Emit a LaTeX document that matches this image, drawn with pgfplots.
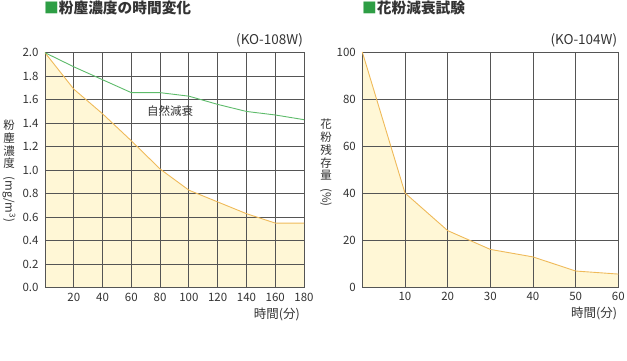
\documentclass[border=0pt]{standalone}
\usepackage{fontspec}
\setmainfont{Noto Sans CJK JP}
\usepackage{pgfplots}
\pgfplotsset{compat=1.18}
\definecolor{gridc}{HTML}{555555}
\definecolor{orangec}{HTML}{EFBA5A}
\definecolor{fillc}{HTML}{FFF7D6}
\definecolor{greenc}{HTML}{5DBB6A}
\definecolor{titleg}{HTML}{2E9E45}
\definecolor{txt}{HTML}{333333}
\pgfplotsset{
 mystyle/.style={
  scale only axis, height=235pt, anchor=south west,
  axis line style={gridc, line width=0.8pt},
  grid=major, major grid style={gridc, line width=0.8pt},
  major tick length=0pt,
  tick label style={font=\fontsize{11.5}{11.5}\selectfont, text=txt},
  xticklabel style={yshift=-2pt},
  yticklabel style={xshift=-3pt},
  /pgf/number format/assume math mode=true,
  set layers,
  clip=false,
 }
}
\newcommand\vlab[2]{\begin{tabular}{@{}c@{}}#1\\[2pt]\rotatebox{-90}{#2}\end{tabular}}
\begin{document}
\begin{tikzpicture}
% titles
\node[anchor=west, inner sep=0, font=\fontsize{14.7}{14.7}\selectfont\bfseries, text=txt] at (44pt,353pt) {\textcolor{titleg}{■}粉塵濃度の時間変化};
\node[anchor=west, inner sep=0, font=\fontsize{14.7}{14.7}\selectfont\bfseries, text=txt] at (362pt,353pt) {\textcolor{titleg}{■}花粉減衰試験};
% vertical labels
\node[inner sep=0, font=\fontsize{11.5}{11.5}\selectfont, text=txt] at (9pt,190pt) {\renewcommand\arraystretch{0.92}\begin{tabular}{@{}c@{}}粉\\塵\\濃\\度\\[-2pt]\rotatebox{-90}{(mg/m\textsuperscript{3})}\end{tabular}};
\node[inner sep=0, font=\fontsize{11.5}{11.5}\selectfont, text=txt] at (326pt,198pt) {\renewcommand\arraystretch{0.92}\begin{tabular}{@{}c@{}}花\\粉\\残\\存\\量\\[-2pt]\rotatebox{-90}{(\%)}\end{tabular}};

\begin{axis}[mystyle, at={(45pt,73.3pt)}, width=259pt,
  xmin=0, xmax=180, ymin=0, ymax=2.0,
  xtick={20,40,...,180}, ytick={0,0.2,...,2.01},
  yticklabel style={/pgf/number format/.cd, fixed, fixed zerofill, precision=1},
  ]
\addplot[on layer=axis background, fill=fillc, draw=none] coordinates {
(0,2.0) (20,1.69) (40,1.48) (60,1.25) (80,1.01) (100,0.83) (120,0.73) (140,0.63) (160,0.55) (180,0.55)} \closedcycle;
\addplot[orangec, line width=0.9pt] coordinates {
(0,2.0) (20,1.69) (40,1.48) (60,1.25) (80,1.01) (100,0.83) (120,0.73) (140,0.63) (160,0.55) (180,0.55)};
\addplot[greenc, line width=0.9pt] coordinates {
(0,2.0) (20,1.88) (40,1.77) (60,1.66) (80,1.66) (100,1.63) (120,1.56) (140,1.50) (160,1.47) (180,1.43)};
\node[font=\fontsize{11.5}{11.5}\selectfont, text=txt] at (axis cs:87,1.50) {自然減衰};
\node[anchor=south east, inner sep=0, font=\fontsize{13.5}{13.5}\selectfont, text=txt] at ([xshift=-1pt,yshift=5pt]rel axis cs:1,1) {(KO-108W)};
\node[anchor=north east, inner sep=0, font=\fontsize{12.5}{12.5}\selectfont, text=txt] at ([xshift=-4pt,yshift=-20pt]rel axis cs:1,0) {時間(分)};
\end{axis}

\begin{axis}[mystyle, at={(362.3pt,74pt)}, width=256pt,
  xmin=0, xmax=60, ymin=0, ymax=100,
  xtick={10,20,...,60}, ytick={0,20,...,100},
  ]
\addplot[on layer=axis background, fill=fillc, draw=none] coordinates {
(0,100) (10,40) (20,24) (30,16) (40,12.8) (50,6.8) (60,5.5)} \closedcycle;
\addplot[orangec, line width=0.9pt] coordinates {
(0,100) (10,40) (20,24) (30,16) (40,12.8) (50,6.8) (60,5.5)};
\node[anchor=south east, inner sep=0, font=\fontsize{13.5}{13.5}\selectfont, text=txt] at ([xshift=-1pt,yshift=5pt]rel axis cs:1,1) {(KO-104W)};
\node[anchor=north east, inner sep=0, font=\fontsize{12.5}{12.5}\selectfont, text=txt] at ([xshift=-1pt,yshift=-20pt]rel axis cs:1,0) {時間(分)};
\end{axis}
\pgfresetboundingbox
\useasboundingbox (0,0) rectangle (627pt,361pt);
\end{tikzpicture}
\end{document}
